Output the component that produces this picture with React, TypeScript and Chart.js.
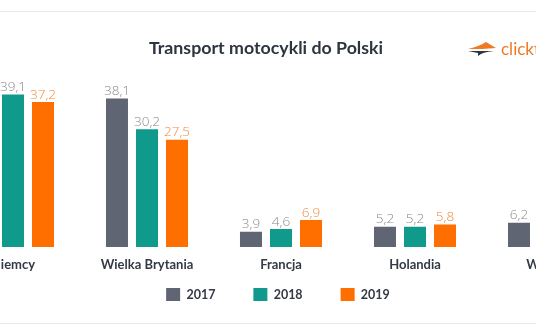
import React, { useEffect, useRef } from "react";
import { Chart, registerables } from "chart.js";

Chart.register(...registerables);

const categories = ["Niemcy", "Wielka Brytania", "Francja", "Holandia", "Włochy"];
const seriesLabels = ["2017", "2018", "2019"];
const values2017 = [42.5, 38.1, 3.9, 5.2, 6.2];
const values2018 = [39.1, 30.2, 4.6, 5.2, 6.0];
const values2019 = [37.2, 27.5, 6.9, 5.8, 6.4];
const seriesColors = ["#5f6573", "#0f9a8c", "#ff6f00"];
const labelColors = ["#8a8a8a", "#8a8a8a", "#f4883a"];
const titleText = "Transport motocykli do Polski";
const logoText = "clicktrans";
const Y_MAX = 45;

const OFFSET_X = -70; // canvas left in page coords
const CANVAS_W = 690;
const CANVAS_H = 332;

const fmt = (v: number) => v.toFixed(1).replace(".", ",");

const valueLabelPlugin = {
  id: "valueLabels",
  afterDatasetsDraw(chart: any) {
    const ctx = chart.ctx;
    ctx.save();
    ctx.font = "300 13.5px 'Open Sans'";
    ctx.textAlign = "center";
    ctx.textBaseline = "bottom";
    chart.data.datasets.forEach((ds: any, di: number) => {
      const meta = chart.getDatasetMeta(di);
      ctx.fillStyle = labelColors[di];
      meta.data.forEach((bar: any, i: number) => {
        ctx.fillText(fmt(ds.data[i]), bar.x, bar.y - 0.5);
      });
    });
    ctx.restore();
  },
};

const legendShiftPlugin = {
  id: "legendShift",
  afterLayout(chart: any) {
    const lg = chart.legend;
    if (!lg) return;
    lg.top = chart.chartArea.bottom + 3;
    lg.height = lg.bottom - lg.top;
  },
};

const titleLogoPlugin = {
  id: "titleLogo",
  afterDraw(chart: any) {
    const ctx = chart.ctx;
    ctx.save();
    ctx.font = "bold 17.8px Lato";
    ctx.fillStyle = "#2e3440";
    ctx.textAlign = "center";
    ctx.textBaseline = "middle";
    ctx.fillText(titleText, 266 - OFFSET_X, 48);
    const ix = 468 - OFFSET_X;
    ctx.fillStyle = "#f07a22";
    ctx.beginPath();
    ctx.moveTo(ix, 49);
    ctx.quadraticCurveTo(ix + 12, 46, ix + 18, 42);
    ctx.lineTo(ix + 28, 48);
    ctx.lineTo(ix + 14, 49);
    ctx.closePath();
    ctx.fill();
    ctx.fillStyle = "#2e3440";
    ctx.beginPath();
    ctx.moveTo(ix, 51);
    ctx.lineTo(ix + 26, 51);
    ctx.quadraticCurveTo(ix + 14, 52, ix + 10, 56);
    ctx.lineTo(ix + 10, 53);
    ctx.closePath();
    ctx.fill();
    ctx.font = "17px Lato";
    ctx.fillStyle = "#ef7a26";
    ctx.textAlign = "left";
    ctx.textBaseline = "alphabetic";
    ctx.fillText(logoText, 501 - OFFSET_X, 55);
    ctx.restore();
  },
};

export default function App() {
  const ref = useRef<HTMLCanvasElement>(null);
  useEffect(() => {
    if (!ref.current) return;
    const data = [values2017, values2018, values2019];
    const chart = new Chart(ref.current, {
      type: "bar",
      data: {
        labels: categories,
        datasets: seriesLabels.map((l, i) => ({
          label: l,
          data: data[i],
          backgroundColor: seriesColors[i],
          borderWidth: 0,
          categoryPercentage: 0.672,
          barPercentage: 0.733,
        })),
      },
      options: {
        animation: false,
        responsive: true,
        maintainAspectRatio: false,
        layout: { padding: { top: 247 - Y_MAX * 3.9, bottom: 9.4, left: 10, right: 4 } },
        plugins: {
          title: { display: false },
          tooltip: { enabled: false },
          legend: {
            position: "bottom",
            maxHeight: 40,
            labels: {
              boxWidth: 14,
              boxHeight: 13,
              padding: 38,
              color: "#333a44",
              font: { family: "Lato", size: 12.5, weight: "bold" },
            },
          },
        },
        scales: {
          x: {
            grid: { display: false, drawTicks: false },
            border: { display: false },
            ticks: {
              padding: 10,
              color: "#333a44",
              font: { family: "Lato", size: 13, weight: "bold" },
              maxRotation: 0,
              autoSkip: false,
            },
          },
          y: {
            min: 0,
            max: Y_MAX,
            grid: { display: false, drawTicks: false },
            border: { display: false },
            ticks: { display: false },
            afterFit: (s: any) => {
              s.width = 6;
            },
          },
        },
      },
      plugins: [valueLabelPlugin, legendShiftPlugin, titleLogoPlugin],
    });
    return () => chart.destroy();
  }, []);

  return (
    <div
      style={{
        position: "fixed",
        left: 0,
        top: 0,
        width: 536,
        height: 332,
        overflow: "hidden",
        background: "#ffffff",
      }}
    >
      <div style={{ position: "absolute", left: 0, top: 11, width: 536, height: 1, background: "#e8e8e8" }} />
      <div style={{ position: "absolute", left: 0, top: 323, width: 536, height: 1, background: "#e8e8e8" }} />
      <div style={{ position: "absolute", left: OFFSET_X, top: 0, width: CANVAS_W, height: CANVAS_H }}>
        <canvas ref={ref} />
      </div>
    </div>
  );
}
